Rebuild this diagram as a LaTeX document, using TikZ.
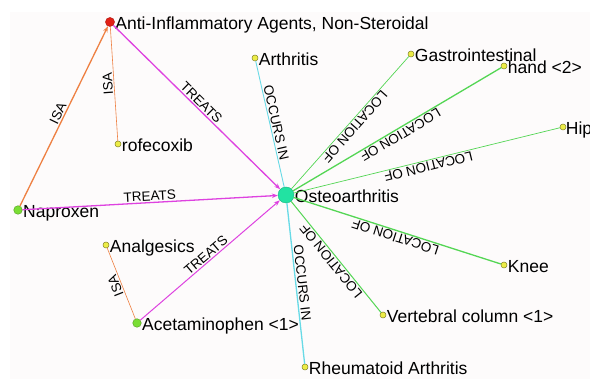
\documentclass[tikz,border=0pt]{standalone}
\usepackage{fontspec}
\setmainfont{Liberation Sans}
\usetikzlibrary{arrows.meta}
\definecolor{bgcol}{RGB}{253,251,251}
\definecolor{isacol}{RGB}{238,128,66}
\definecolor{treatcol}{RGB}{222,66,224}
\definecolor{occcol}{RGB}{104,218,230}
\definecolor{loccol}{RGB}{84,214,84}
\definecolor{redcol}{RGB}{226,32,22}
\definecolor{drugcol}{RGB}{122,222,52}
\definecolor{osteocol}{RGB}{34,226,162}
\definecolor{ylwcol}{RGB}{236,236,70}
\tikzset{
  dot/.style  ={circle, inner sep=0pt, minimum size=6pt, line width=0.5pt,
                draw=ylwcol!55!black, fill=ylwcol},
  drug/.style ={dot, minimum size=8.5pt, draw=drugcol!75!black, fill=drugcol},
  lbl/.style  ={inner sep=0pt, text height=16pt, text depth=0pt,
                font=\fontsize{17.5}{19}\selectfont},
  elbl/.style ={sloped, allow upside down, above, inner sep=1.2pt,
                font=\fontsize{13.5}{14}\selectfont},
  tip/.style  ={-{Stealth[length=6pt, width=4.5pt]}},
  isa/.style  ={draw=isacol, line width=0.6pt},
  treat/.style={draw=treatcol, line width=1pt},
  occ/.style  ={draw=occcol, line width=0.9pt},
  loc/.style  ={draw=loccol, line width=0.7pt},
  fat/.style  ={line width=1.3pt}
}
\begin{document}
\begin{tikzpicture}[x=1pt, y=-1pt, label distance=0.5pt]
  \useasboundingbox (0,0) rectangle (590,379);
  \fill[bgcol] (10,12) rectangle (590,379);
  % nodes
  \node[dot, minimum size=9pt, draw=redcol!80!black, fill=redcol,
        label={[lbl]right:Anti-Inflammatory Agents, Non-Steroidal}] (anti) at (110,22) {};
  \node[dot, label={[lbl]right:rofecoxib}] (rofe) at (118,144) {};
  \node[drug, label={[lbl]right:Naproxen}] (nap) at (18,210) {};
  \node[dot, label={[lbl]right:Analgesics}] (analg) at (106,245) {};
  \node[drug, label={[lbl]right:Acetaminophen <1>}] (acet) at (137,323) {};
  \node[circle, inner sep=0pt, minimum size=16pt, draw=osteocol!80!black,
        fill=osteocol, label={[lbl]right:Osteoarthritis}] (osteo) at (286,195) {};
  \node[dot, label={[lbl]right:Arthritis}] (arth) at (255,58) {};
  \node[dot, label={[lbl]right:Gastrointestinal}] (gastro) at (411,54) {};
  \node[dot, label={[lbl]right:hand <2>}] (hand) at (504,66) {};
  \node[dot, label={[lbl, label distance=-0.5pt]right:Hip}] (hip) at (563,127) {};
  \node[dot, label={[lbl]right:Knee}] (knee) at (504,265) {};
  \node[dot, label={[lbl]right:Vertebral column <1>}] (vert) at (383,315) {};
  \node[dot, label={[lbl]right:Rheumatoid Arthritis}] (rheum) at (305,367) {};
  % ISA
  \draw[isa, fat, tip] (nap) -- node[elbl] {ISA} (anti);
  \draw[isa] (rofe) -- node[elbl] {ISA} (anti);
  \draw[isa] (acet) -- node[elbl] {ISA} (analg);
  % TREATS
  \draw[treat, fat, tip] (anti) -- node[elbl] {TREATS} (osteo);
  \draw[treat, fat, tip] (nap) -- node[elbl] {TREATS} (osteo);
  \draw[treat, tip] (acet) -- node[elbl] {TREATS} (osteo);
  % OCCURS IN
  \draw[occ] (arth) -- node[elbl] {OCCURS IN} (osteo);
  \draw[occ, fat] (osteo) -- node[elbl] {OCCURS IN} (rheum);
  % LOCATION OF
  \draw[loc] (gastro) -- node[elbl] {LOCATION OF} (osteo);
  \draw[loc, fat] (hand) -- node[elbl] {LOCATION OF} (osteo);
  \draw[loc] (hip) -- node[elbl] {LOCATION OF} (osteo);
  \draw[loc, fat] (knee) -- node[elbl] {LOCATION OF} (osteo);
  \draw[loc, line width=1pt] (vert) -- node[elbl] {LOCATION OF} (osteo);
\end{tikzpicture}
\end{document}
